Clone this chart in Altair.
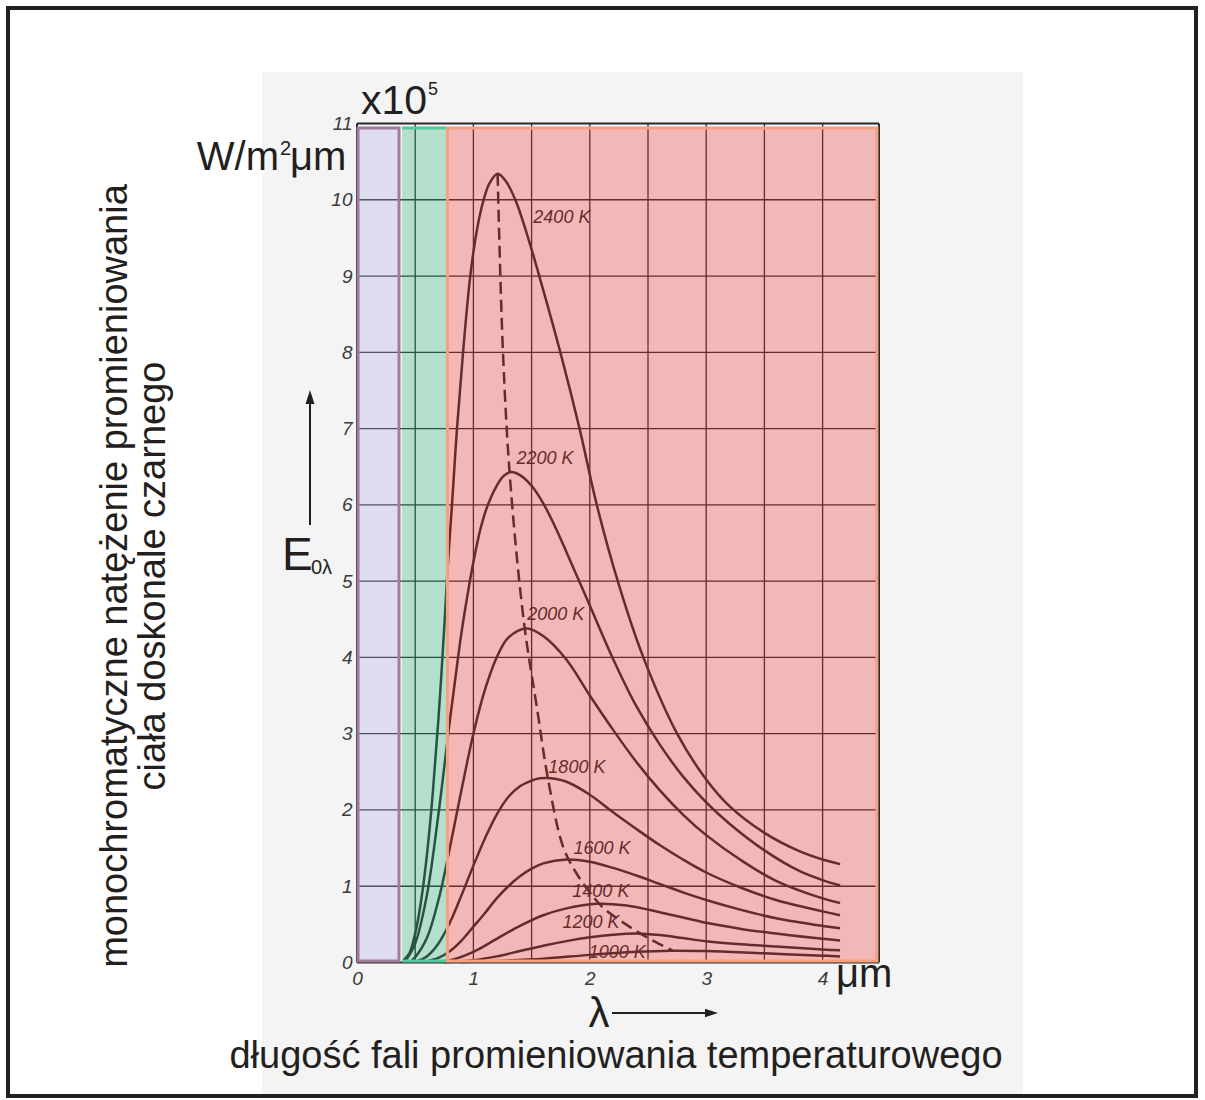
import altair as alt
import pandas as pd

# ---------------- data ----------------
TEMPS = ["2400 K", "2200 K", "2000 K", "1800 K", "1600 K", "1400 K", "1200 K", "1000 K"]

LAM_2400 = [0.40, 0.45, 0.50, 0.55, 0.60, 0.65, 0.70, 0.75, 0.78, 0.816, 0.859, 0.911, 0.973, 1.03, 1.088,
            1.14, 1.208, 1.28, 1.36, 1.45, 1.566, 1.747, 1.912, 2.06, 2.25, 2.46, 2.75, 3.00, 3.20, 3.50,
            3.80, 4.00, 4.15]
E_2400 = [0.03, 0.12, 0.38, 0.80, 1.40, 2.20, 3.20, 4.40, 5.20, 6.00, 7.00, 8.00, 9.00, 9.60, 10.00,
          10.22, 10.34, 10.24, 10.00, 9.60, 9.00, 8.00, 7.00, 6.00, 4.95, 4.00, 3.00, 2.40, 2.05, 1.70,
          1.46, 1.35, 1.29]

LAM_2200 = [0.42, 0.50, 0.60, 0.70, 0.80, 0.864, 0.90, 0.964, 1.00, 1.06, 1.117, 1.20, 1.26, 1.32, 1.40,
            1.50, 1.60, 1.70, 1.80, 2.00, 2.20, 2.40, 2.60, 2.80, 3.00, 3.20, 3.50, 3.80, 4.00, 4.15]
E_2200 = [0.03, 0.25, 0.88, 1.95, 3.20, 3.95, 4.35, 4.95, 5.25, 5.68, 5.97, 6.25, 6.38, 6.43, 6.39,
          6.25, 6.02, 5.72, 5.38, 4.68, 3.98, 3.36, 2.86, 2.44, 2.10, 1.82, 1.47, 1.20, 1.08, 1.01]

LAM_2000 = [0.47, 0.50, 0.60, 0.70, 0.80, 0.90, 1.00, 1.10, 1.20, 1.30, 1.46, 1.60, 1.80, 2.00,
            2.20, 2.40, 2.60, 2.80, 3.00, 3.30, 3.60, 4.00, 4.15]
E_2000 = [0.03, 0.07, 0.32, 0.82, 1.52, 2.28, 3.00, 3.58, 4.00, 4.26, 4.38, 4.28, 3.97, 3.50,
          3.05, 2.63, 2.26, 1.94, 1.67, 1.34, 1.07, 0.84, 0.78]

LAM_1800 = [0.52, 0.60, 0.70, 0.80, 0.90, 1.00, 1.10, 1.20, 1.30, 1.40, 1.50, 1.57, 1.63, 1.70, 1.80,
            2.00, 2.20, 2.40, 2.60, 2.80, 3.00, 3.30, 3.60, 4.00, 4.15]
E_1800 = [0.02, 0.08, 0.25, 0.53, 0.89, 1.27, 1.63, 1.94, 2.17, 2.31, 2.385, 2.415, 2.42, 2.41, 2.37,
          2.20, 1.97, 1.75, 1.54, 1.35, 1.18, 0.98, 0.82, 0.67, 0.62]

LAM_1600 = [0.58, 0.70, 0.80, 0.90, 1.00, 1.10, 1.20, 1.30, 1.40, 1.50, 1.60, 1.80, 2.00, 2.20,
            2.40, 2.60, 2.80, 3.00, 3.30, 3.60, 4.00, 4.15]
E_1600 = [0.01, 0.06, 0.15, 0.29, 0.47, 0.65, 0.84, 1.00, 1.13, 1.23, 1.30, 1.35, 1.32, 1.24,
          1.14, 1.03, 0.92, 0.82, 0.69, 0.58, 0.48, 0.45]

LAM_1400 = [0.65, 0.80, 1.00, 1.20, 1.40, 1.60, 1.80, 2.06, 2.30, 2.60, 2.80, 3.00, 3.30, 3.60, 4.00, 4.15]
E_1400 = [0.01, 0.03, 0.14, 0.31, 0.48, 0.62, 0.71, 0.77, 0.75, 0.66, 0.59, 0.52, 0.44, 0.38, 0.31, 0.29]

LAM_1200 = [0.75, 1.00, 1.20, 1.40, 1.60, 1.80, 2.00, 2.20, 2.40, 2.60, 2.80, 3.00, 3.30, 3.60, 4.00, 4.15]
E_1200 = [0.005, 0.03, 0.08, 0.15, 0.22, 0.28, 0.33, 0.365, 0.38, 0.36, 0.32, 0.28, 0.24, 0.21, 0.17, 0.16]

LAM_1000 = [0.90, 1.20, 1.60, 2.00, 2.40, 2.70, 3.00, 3.50, 4.00, 4.15]
E_1000 = [0.005, 0.02, 0.05, 0.10, 0.14, 0.155, 0.15, 0.12, 0.09, 0.08]

CURVES = [("2400 K", LAM_2400, E_2400), ("2200 K", LAM_2200, E_2200), ("2000 K", LAM_2000, E_2000),
          ("1800 K", LAM_1800, E_1800), ("1600 K", LAM_1600, E_1600), ("1400 K", LAM_1400, E_1400),
          ("1200 K", LAM_1200, E_1200), ("1000 K", LAM_1000, E_1000)]

# Wien displacement locus (dashed)
WIEN_LAM = [1.208, 1.254, 1.317, 1.436, 1.55, 1.637, 1.77, 1.885, 2.0, 2.113, 2.34, 2.55, 2.71]
WIEN_E = [10.34, 8.0, 6.3, 4.44, 3.3, 2.44, 1.52, 1.17, 0.92, 0.72, 0.47, 0.28, 0.16]

# curve label anchor points (left edge, vertical middle)
LABEL_LAM = [1.515, 1.37, 1.463, 1.644, 1.86, 1.85, 1.765, 1.99]
LABEL_E = [9.76, 6.60, 4.55, 2.55, 1.49, 0.93, 0.52, 0.13]

X_TICKS = [0, 1, 2, 3, 4]
Y_TICKS = list(range(0, 12))
X_GRID = [0.5, 1.0, 1.5, 2.0, 2.5, 3.0, 3.5, 4.0]
Y_GRID = [1, 2, 3, 4, 5, 6, 7, 8, 9, 10]

# spectral bands: UV (violet), visible (green), IR (red)
BAND_NAMES = ["UV", "VIS", "IR"]
BAND_X0 = [0.009, 0.387, 0.777]
BAND_X1 = [0.361, 0.765, 4.467]
BAND_Y0 = [0.02, 0.02, 0.02]
BAND_Y1 = [10.94, 10.94, 10.94]
BAND_FILL = ["#ada7e3", "#28ad71", "#f02f2f"]
BAND_STROKE = ["#9e7c9c", "#52c99b", "#f5a07f"]

Y_TITLE = ["monochromatyczne natężenie promieniowania", "ciała doskonale czarnego"]
X_TITLE = "długość fali promieniowania temperaturowego"

# ---------------- layout ----------------
OX, OY = 357.0, 123.5
W, H = 522, 839
XMAX = W / 116.4
YMAX = 11.0
FONT = "Liberation Sans"
INK = "#231f20"
SCAN = "#2b2b2b"


def px(x):
    return x - OX


def py(y):
    return y - OY


one = pd.DataFrame({"k": [0]})

xs = alt.Scale(domain=[0, XMAX], nice=False, zero=False)
ys = alt.Scale(domain=[0, YMAX], nice=False, zero=False)
x_axis = alt.Axis(values=X_TICKS, format="d", labelFont=FONT, labelFontStyle="italic", labelFontSize=19,
                  labelColor="#3a3a3a", domain=False, ticks=False, grid=False, labelPadding=7,
                  title=None, zindex=1, labelFlush=False)
y_axis = alt.Axis(values=Y_TICKS, format="d", labelFont=FONT, labelFontStyle="italic", labelFontSize=19,
                  labelColor="#3a3a3a", domain=False, ticks=False, grid=False, labelPadding=5,
                  title=None, zindex=1, labelFlush=False)


def X(f):
    return alt.X(f, type="quantitative", scale=xs, axis=x_axis)


def Y(f):
    return alt.Y(f, type="quantitative", scale=ys, axis=y_axis)


def ptext(text, x, y, size, align="left", baseline="alphabetic", angle=0, style="normal", color=INK):
    kw = dict(font=FONT, fontSize=size, align=align, baseline=baseline, color=color, fontStyle=style)
    if angle:
        kw["angle"] = angle
    return alt.Chart(pd.DataFrame({"t": [text]})).mark_text(**kw).encode(
        x=alt.value(px(x)), y=alt.value(py(y)), text="t:N")


layers = []

# scanned page background
layers.append(alt.Chart(one).mark_rect(color="#f4f4f4").encode(
    x=alt.value(px(262)), x2=alt.value(px(1023)), y=alt.value(py(72)), y2=alt.value(py(1095))))

# grid of the scanned diagram
layers.append(alt.Chart(pd.DataFrame({"g": X_GRID})).mark_rule(color=SCAN, strokeWidth=1.3).encode(x=X("g")))
layers.append(alt.Chart(pd.DataFrame({"g": Y_GRID})).mark_rule(color=SCAN, strokeWidth=1.3).encode(y=Y("g")))
layers.append(alt.Chart(pd.DataFrame({"g": [0, XMAX]})).mark_rule(color=SCAN, strokeWidth=2).encode(x=X("g")))
layers.append(alt.Chart(pd.DataFrame({"g": [0, YMAX]})).mark_rule(color=SCAN, strokeWidth=2).encode(y=Y("g")))

# curves
rows = []
for name, lams, es in CURVES:
    for l, e in zip(lams, es):
        rows.append({"T": name, "lam": l, "E": e})
cdf = pd.DataFrame(rows)
layers.append(alt.Chart(cdf).mark_line(color=SCAN, strokeWidth=2.5, interpolate="catmull-rom").encode(
    x=X("lam"), y=Y("E"), detail="T:N"))

# Wien dashed line
wdf = pd.DataFrame({"lam": WIEN_LAM, "E": WIEN_E})
layers.append(alt.Chart(wdf).mark_line(color=SCAN, strokeWidth=2.5, strokeDash=[12, 6],
                                       interpolate="catmull-rom").encode(x=X("lam"), y=Y("E")))

# curve labels
ldf = pd.DataFrame({"T": TEMPS, "lam": LABEL_LAM, "E": LABEL_E})
layers.append(alt.Chart(ldf).mark_text(font=FONT, fontSize=18, fontStyle="italic", align="left",
                                       baseline="middle", color=SCAN).encode(
    x=X("lam"), y=Y("E"), text="T:N"))

# colour bands (transparent overlays)
bdf = pd.DataFrame({"band": BAND_NAMES, "x0": BAND_X0, "x1": BAND_X1, "y0": BAND_Y0, "y1": BAND_Y1,
                    "fill": BAND_FILL, "stroke": BAND_STROKE})
layers.append(alt.Chart(bdf).mark_rect(fillOpacity=0.3).encode(
    x=X("x0"), x2="x1", y=Y("y0"), y2="y1", fill=alt.Fill("fill:N", scale=None)))
layers.append(alt.Chart(bdf[bdf["band"] != "VIS"]).mark_rect(fillOpacity=0, strokeWidth=3).encode(
    x=X("x0"), x2="x1", y=Y("y0"), y2="y1", stroke=alt.Stroke("stroke:N", scale=None)))
vis = bdf[bdf["band"] == "VIS"]
vis_edges = pd.DataFrame({"x0": [vis["x0"].iloc[0]] * 2, "x1": [vis["x1"].iloc[0]] * 2,
                          "y": [vis["y0"].iloc[0], vis["y1"].iloc[0]]})
layers.append(alt.Chart(vis_edges).mark_rule(color=BAND_STROKE[1], strokeWidth=3).encode(
    x=X("x0"), x2="x1", y=Y("y")))

# ---------------- annotations outside the plot ----------------
layers.append(ptext("x10", 361, 114, 41))
layers.append(ptext("5", 428, 95, 18))
layers.append(ptext("W/m", 279, 170, 40, align="right"))
layers.append(ptext("2", 280, 155, 20))
layers.append(ptext("μm", 290, 170, 40))

layers.append(ptext(Y_TITLE[0], 127, 576, 38, align="center", angle=270))
layers.append(ptext(Y_TITLE[1], 165, 576, 38, align="center", angle=270))

layers.append(ptext("E", 282, 570, 46))
layers.append(ptext("0λ", 311, 574, 20))
# upward arrow
layers.append(alt.Chart(one).mark_rule(color=INK, strokeWidth=2).encode(
    x=alt.value(px(310)), y=alt.value(py(400)), y2=alt.value(py(525))))
layers.append(alt.Chart(one).mark_point(shape="M-0.64,1L0,-1L0.64,1Z", filled=True, size=196, color=INK,
                                        opacity=1).encode(x=alt.value(px(310)), y=alt.value(py(397))))

layers.append(ptext("μm", 836, 987, 40))
layers.append(ptext("λ", 599, 1027, 42, align="center"))
# rightward arrow
layers.append(alt.Chart(one).mark_rule(color=INK, strokeWidth=2).encode(
    x=alt.value(px(612)), x2=alt.value(px(708)), y=alt.value(py(1013))))
layers.append(alt.Chart(one).mark_point(shape="M-1,-0.64L1,0L-1,0.64Z", filled=True, size=169, color=INK,
                                        opacity=1).encode(x=alt.value(px(711.5)), y=alt.value(py(1013))))

layers.append(ptext(X_TITLE, 616, 1068, 38, align="center"))

# outer frame
layers.append(alt.Chart(one).mark_rect(fillOpacity=0, stroke=INK, strokeWidth=4).encode(
    x=alt.value(px(8)), x2=alt.value(px(1196)), y=alt.value(py(8)), y2=alt.value(py(1096))))

chart = alt.layer(*layers).properties(
    width=W, height=H,
    autosize=alt.AutoSizeParams(type="none"),
    padding={"left": OX, "top": OY, "right": 1205 - OX - W, "bottom": 1100 - OY - H},
    background="white",
).configure_view(strokeWidth=0)

chart.save("out.html", embed_options={"renderer": "svg", "actions": False})
